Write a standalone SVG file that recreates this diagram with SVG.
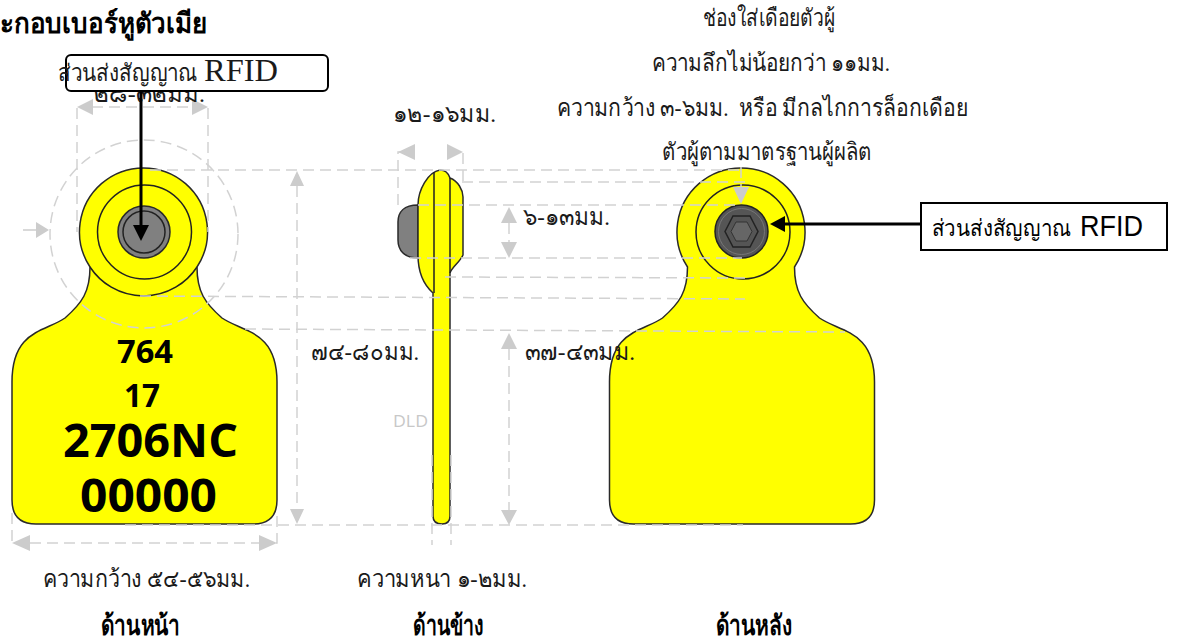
<svg xmlns="http://www.w3.org/2000/svg" width="1179" height="640" viewBox="0 0 1179 640">
<style>
text{font-family:"Liberation Serif","Noto Sans",serif;fill:#1a1a1a}
.m{font-size:24px}
.h{font-size:28px;font-weight:bold;fill:#000}
.n{font-family:"Open Sans","Noto Sans",sans-serif;font-weight:bold;fill:#000}
.d{fill:none;stroke:#d2d2d2;stroke-width:1.5;stroke-dasharray:11 6}
.t{fill:#ff0;stroke:#2a2a2a;stroke-width:1.5}
.r{fill:none;stroke:#222;stroke-width:1.5}
.g{fill:#808080;stroke:#2a2a2a;stroke-width:1.5}
.a{fill:#ccc}
.k{stroke:#000;stroke-width:3;fill:none}
</style>
<defs>
<path id="tag" d="M90 267A64 64 0 1 1 197 267C197 292 205 303 222 318C242 332 277 330 277 382L277 500Q277 524 253 524L36 524Q12 524 12 500L12 382C12 330 45 332 65 318C82 303 90 292 90 267Z"/>
</defs>
<g id="front-tag">
<use href="#tag" class="t"/>
<path class="r" d="M90 267A64 64 0 0 0 197 267"/>
<circle class="r" cx="144.500" cy="232" r="47"/>
<circle class="g" cx="144" cy="232" r="26"/>
<circle class="r" cx="144" cy="232" r="21"/>
<text class="n" x="117" y="363" font-size="33" textLength="56" lengthAdjust="spacingAndGlyphs">764</text>
<text class="n" x="124" y="407" font-size="33" textLength="36" lengthAdjust="spacingAndGlyphs">17</text>
<text class="n" x="63" y="457" font-size="47" textLength="175" lengthAdjust="spacingAndGlyphs">2706NC</text>
<text class="n" x="80" y="512" font-size="47" textLength="137" lengthAdjust="spacingAndGlyphs">00000</text>
</g>
<g id="side-tag">
<path class="g" d="M418 205C404 205 398 212 398 222L398 240C398 250 404 258 418 258Z"/>
<path class="t" d="M433 293C424 285 418 272 418 255L418 205C418 190 428 172 440 170C446 170 449 175 450 178C458 181 463 190 463 197L463 255C460 262 452 267 450 273L450 516Q450 524 442 524Q433 524 433 516Z"/>
<path class="r" d="M434 172V293M450 178V273"/>
</g>
<g id="back-tag">
<use href="#tag" x="597.500" class="t"/>
<circle class="r" cx="743" cy="232" r="47"/>
<circle cx="741.500" cy="231.500" r="26.500" fill="#555" stroke="#222" stroke-width="1.500"/>
<circle cx="741.500" cy="231.500" r="23" fill="none" stroke="#777" stroke-width="1"/>
<path class="r" d="M725 231.500L733 216H750L758 231.500L750 247H733Z"/>
<path fill="#666" stroke="#333" d="M731 231.500L736 222H747L752 231.500L747 241H736Z"/>
</g>
<g id="connectors">
<path class="d" d="M77 108V232M208 108V232M92 107H192M150 170H745M140 296L745 299M245 329L845 332M125 525H743M462 182H745M418 205H740M410 258H742M445 277L745 278"/>
<circle class="d" cx="144" cy="234" r="94"/>
<path class="d" d="M297 186V509M509 223V242M509 349V510M398 205V152H415M447 152H463V182M432 455V545M451 455V545M12 513V543H30M259 543H277V513M30 543H259M741 150V190"/>
<path stroke="#ccc" stroke-width="1.500" d="M23 230H38"/>
<path class="a" d="M49 230L36 222V238ZM77 107L93 99V115ZM208 107L192 99V115ZM297 171L290 186H304ZM297 524L290 509H304ZM509 207L501 223H517ZM509 258L501 242H517ZM509 333L501 349H517ZM509 525L501 510H517ZM398 152L415 144V160ZM463 152L447 144V160ZM12 543L30 535V551ZM277 543L259 535V551ZM741 204L733 187H749Z"/>
<path class="k" d="M921 224H783"/>
<path d="M770 224L785 216V232Z"/>
</g>
<g id="labels">
<text class="h" x="0" y="33" textLength="207" lengthAdjust="spacingAndGlyphs">ะกอบเบอร์หูตัวเมีย</text>
<text class="m" x="93" y="102" textLength="112" lengthAdjust="spacingAndGlyphs">๒๘-๓๒มม.</text>
<text class="m" x="703" y="26" textLength="132" lengthAdjust="spacingAndGlyphs">ช่องใส่เดือยตัวผู้</text>
<text class="m" x="652" y="71" textLength="238" lengthAdjust="spacingAndGlyphs">ความลึกไม่น้อยกว่า ๑๑มม.</text>
<text class="m" x="557" y="116" textLength="411" lengthAdjust="spacingAndGlyphs" xml:space="preserve">ความกว้าง ๓-๖มม.  หรือ มีกลไกการล็อกเดือย</text>
<text class="m" x="662" y="160" textLength="210" lengthAdjust="spacingAndGlyphs">ตัวผู้ตามมาตรฐานผู้ผลิต</text>
<text class="m" x="393" y="122" textLength="103" lengthAdjust="spacingAndGlyphs">๑๒-๑๖มม.</text>
<text class="m" x="523" y="225" textLength="87" lengthAdjust="spacingAndGlyphs">๖-๑๓มม.</text>
<text class="m" x="525" y="360" textLength="110" lengthAdjust="spacingAndGlyphs">๓๗-๔๓มม.</text>
<text class="m" x="311" y="360" textLength="108" lengthAdjust="spacingAndGlyphs">๗๔-๘๐มม.</text>
<text class="m" x="43" y="587" textLength="207" lengthAdjust="spacingAndGlyphs">ความกว้าง ๕๔-๕๖มม.</text>
<text class="m" x="357" y="587" textLength="170" lengthAdjust="spacingAndGlyphs">ความหนา ๑-๒มม.</text>
<text class="h" x="101" y="635" textLength="79" lengthAdjust="spacingAndGlyphs">ด้านหน้า</text>
<text class="h" x="413" y="635" textLength="71" lengthAdjust="spacingAndGlyphs">ด้านข้าง</text>
<text class="h" x="716" y="635" textLength="76" lengthAdjust="spacingAndGlyphs">ด้านหลัง</text>
<text x="393" y="427" font-size="17" textLength="35" lengthAdjust="spacingAndGlyphs" style="font-family:'Open Sans',sans-serif;fill:#c8c8c8">DLD</text>
</g>
<g id="rfid-box-front">
<rect x="66" y="55" width="262" height="36" rx="5" fill="#fff" stroke="#000" stroke-width="2"/>
<path class="k" d="M141 91V228"/>
<path d="M141 241L133 225H149Z"/>
<text x="58" y="81" font-size="24" textLength="139" lengthAdjust="spacingAndGlyphs">ส่วนส่งสัญญาณ</text>
<text x="204" y="81" font-size="32" textLength="74" lengthAdjust="spacingAndGlyphs">RFID</text>
</g>
<g id="rfid-box">
<rect x="921" y="203" width="246" height="47" fill="#fff" stroke="#000" stroke-width="2"/>
<text x="932" y="236" font-size="23" textLength="139" lengthAdjust="spacingAndGlyphs" style="font-family:'Liberation Sans','Noto Sans',sans-serif;fill:#000">ส่วนส่งสัญญาณ</text>
<text x="1080" y="236" font-size="30" textLength="63" lengthAdjust="spacingAndGlyphs" style="font-family:'Liberation Sans','Noto Sans',sans-serif;fill:#000">RFID</text>
</g>
</svg>
